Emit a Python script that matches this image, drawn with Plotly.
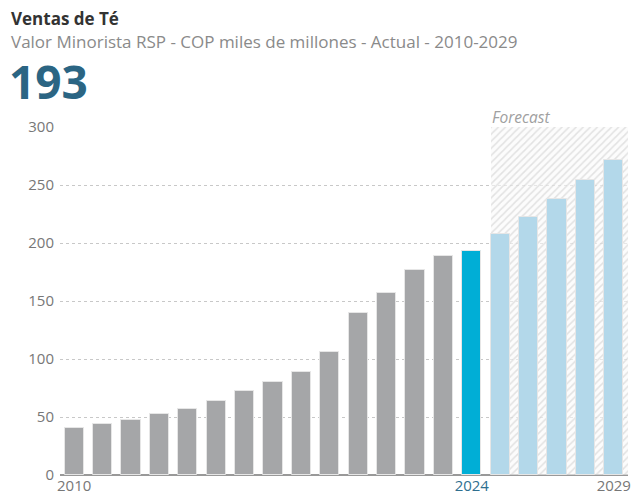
import plotly.graph_objects as go

years = [str(y) for y in range(2010, 2030)]
values = [40.5, 43.9, 47.6, 52.7, 56.5, 63.6, 72.7, 80.1, 89.0, 106.1,
          139.5, 156.6, 176.6, 188.6, 193.4, 207.7, 222.5, 237.9, 254.1, 271.8]
current_year = "2024"
forecast_years = years[years.index(current_year) + 1:]
y_ticks = [0, 50, 100, 150, 200, 250, 300]

title = "Ventas de Té"
subtitle = "Valor Minorista RSP - COP miles de millones - Actual - 2010-2029"
headline = "193"

W, H = 635, 499
ML, MR, MT, MB = 60, 4, 127, 22
PW, PH = W - ML - MR, H - MT - MB

def px_x(px):
    return (px - ML) / PW

def px_y(py):
    return (H - MB - py) / PH

GRAY = "#a5a6a8"
CUR = "#00aed6"
FC = "#b3d8ea"
BW = 0.68

colors = []
for y in years:
    if y == current_year:
        colors.append(CUR)
    elif y in forecast_years:
        colors.append(FC)
    else:
        colors.append(GRAY)

fc_start = years.index(forecast_years[0])

fig = go.Figure()
# Forecast hatched background
fig.add_trace(go.Bar(
    x=[forecast_years[0]], y=[max(y_ticks)],
    width=[len(forecast_years) - 0.5 + BW / 2], offset=-BW / 2,
    marker=dict(color="rgba(0,0,0,0)", line=dict(width=0),
                pattern=dict(shape="/", fgcolor="#c8c8c8", bgcolor="rgba(250,250,250,0.6)",
                             size=5, solidity=0.3, fillmode="overlay")),
    hoverinfo="skip", showlegend=False,
))
fig.add_trace(go.Bar(
    x=years, y=values, width=BW,
    marker=dict(color=colors, line=dict(color="#e6e6e6", width=1)),
    showlegend=False,
))

ticktext = []
tickvals = ["2010", current_year, years[-1]]
for t in tickvals:
    if t == current_year:
        ticktext.append(f"<span style='color:#2f6f8f'>{t}</span>")
    else:
        ticktext.append(t)

fig.update_layout(
    width=W, height=H,
    margin=dict(l=ML, r=MR, t=MT, b=MB),
    plot_bgcolor="white", paper_bgcolor="white",
    barmode="overlay",
    font=dict(family="Open Sans", color="#777777"),
    xaxis=dict(type="category", categoryorder="array", categoryarray=years,
               tickvals=tickvals, ticktext=ticktext, showgrid=False,
               showline=False, ticks="", tickfont=dict(size=15, color="#777777"),
               range=[-0.5, len(years) - 0.5]),
    yaxis=dict(range=[0, 300], tickvals=y_ticks, showgrid=True,
               gridcolor="#c8c8c8", griddash="dot", gridwidth=1,
               zeroline=True, zerolinecolor="#999999", zerolinewidth=2,
               ticks="", tickfont=dict(size=15, color="#777777"),
               ticklabelstandoff=5, fixedrange=True),
    bargap=0,
)

fig.add_annotation(text="<b>" + title + "</b>", xref="paper", yref="paper",
                   x=px_x(9), y=px_y(4), xanchor="left", yanchor="top",
                   showarrow=False, font=dict(size=17, color="#333333"))
fig.add_annotation(text=subtitle, xref="paper", yref="paper",
                   x=px_x(9), y=px_y(27), xanchor="left", yanchor="top",
                   showarrow=False, font=dict(size=17, color="#8a8a8a"))
fig.add_annotation(text="<b>" + headline + "</b>", xref="paper", yref="paper",
                   x=px_x(7), y=px_y(48), xanchor="left", yanchor="top",
                   showarrow=False, font=dict(size=46, color="#2b6583"))
fig.add_annotation(text="<i>Forecast</i>", xref="x", yref="paper",
                   x=fc_start, xshift=-BW / 2 * PW / len(years),
                   y=1, xanchor="left", yanchor="bottom", yshift=-3,
                   showarrow=False, font=dict(size=15.5, color="#a0a0a0"))

fig.write_html("out.html")
